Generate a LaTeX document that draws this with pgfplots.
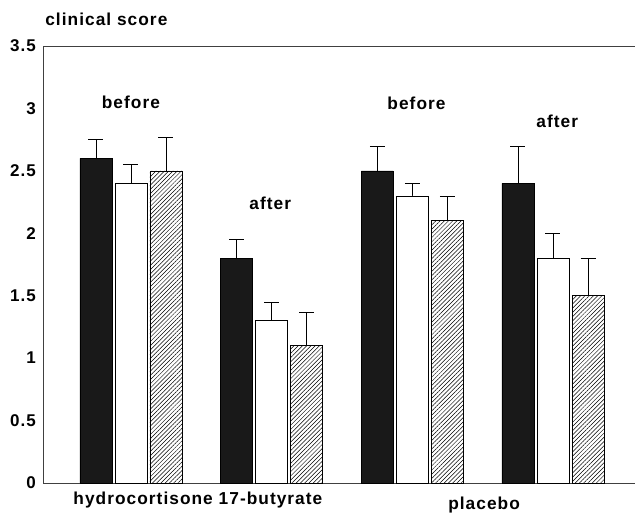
\documentclass[border=0pt]{standalone}
\usepackage{fontspec}
\setmainfont{Liberation Sans}[LetterSpace=6]
\usepackage{pgfplots}
\pgfplotsset{compat=1.18}
\usetikzlibrary{patterns.meta}
\begin{document}
\begin{tikzpicture}
\useasboundingbox (-43bp,-30bp) rectangle (592bp,483bp);
\begin{axis}[
  at={(0,0)}, anchor=south west,
  scale only axis, width=592bp, height=437bp,
  xmin=-0.625, xmax=3.583, ymin=0, ymax=3.5,
  axis x line*=box, axis y line*=left,
  axis line style={black!75, line width=0.6pt},
  xtick=\empty,
  ytick={0,0.5,1,1.5,2,2.5,3,3.5},
  yticklabels={0,0.5,1,1.5,2,2.5,3,3.5},
  major tick length=0pt,
  tick label style={font=\fontsize{17bp}{20bp}\selectfont\bfseries},
  yticklabel style={anchor=east, inner sep=0pt, xshift=-7bp},
  clip=false,
  every axis plot/.append style={line width=0.6pt},
  errb/.style={draw=none, mark=none, forget plot,
    error bars/.cd, y dir=plus, y explicit,
    error bar style={draw=black, line width=0.6pt},
    error mark=|,
    error mark options={draw=black, mark size=7.5bp, line width=0.6pt}},
]
% error bars (drawn first, bars cover lower part)
\addplot[errb] coordinates {(-0.249,2.6) +- (0,0.15) (0.751,1.8) +- (0,0.15) (1.751,2.5) +- (0,0.2) (2.751,2.4) +- (0,0.3)};
\addplot[errb] coordinates {(0,2.4) +- (0,0.15) (1,1.3) +- (0,0.15) (2,2.3) +- (0,0.1) (3,1.8) +- (0,0.2)};
\addplot[errb] coordinates {(0.249,2.5) +- (0,0.27) (1.249,1.1) +- (0,0.27) (2.249,2.1) +- (0,0.2) (3.249,1.5) +- (0,0.3)};
% bars
\addplot[ybar, bar width=0.227, bar shift=-0.249, fill=black!90, draw=black]
  coordinates {(0,2.6) (1,1.8) (2,2.5) (3,2.4)};
\addplot[ybar, bar width=0.227, bar shift=0, fill=white, draw=black]
  coordinates {(0,2.4) (1,1.3) (2,2.3) (3,1.8)};
\addplot[ybar, bar width=0.227, bar shift=0.249, draw=black,
  pattern={Lines[angle=45, distance=3pt, line width=0.5pt]}, pattern color=black]
  coordinates {(0,2.5) (1,1.1) (2,2.1) (3,1.5)};
\tikzset{lbl/.style={font=\fontsize{17.3bp}{20bp}\selectfont\bfseries}}
\node[lbl] at (axis cs:0,3.05) {before};
\node[lbl] at (axis cs:0.99,2.24) {after};
\node[lbl] at (axis cs:2.03,3.04) {before};
\node[lbl] at (axis cs:3.03,2.9) {after};
\node[lbl] at (axis cs:0.476,-0.136) {hydrocortisone 17-butyrate};
\node[lbl] at (axis cs:2.51,-0.176) {placebo};
\node[lbl, anchor=west, inner sep=0pt] at (axis cs:-0.61,3.71) {clinical score};
\end{axis}
\end{tikzpicture}
\end{document}
